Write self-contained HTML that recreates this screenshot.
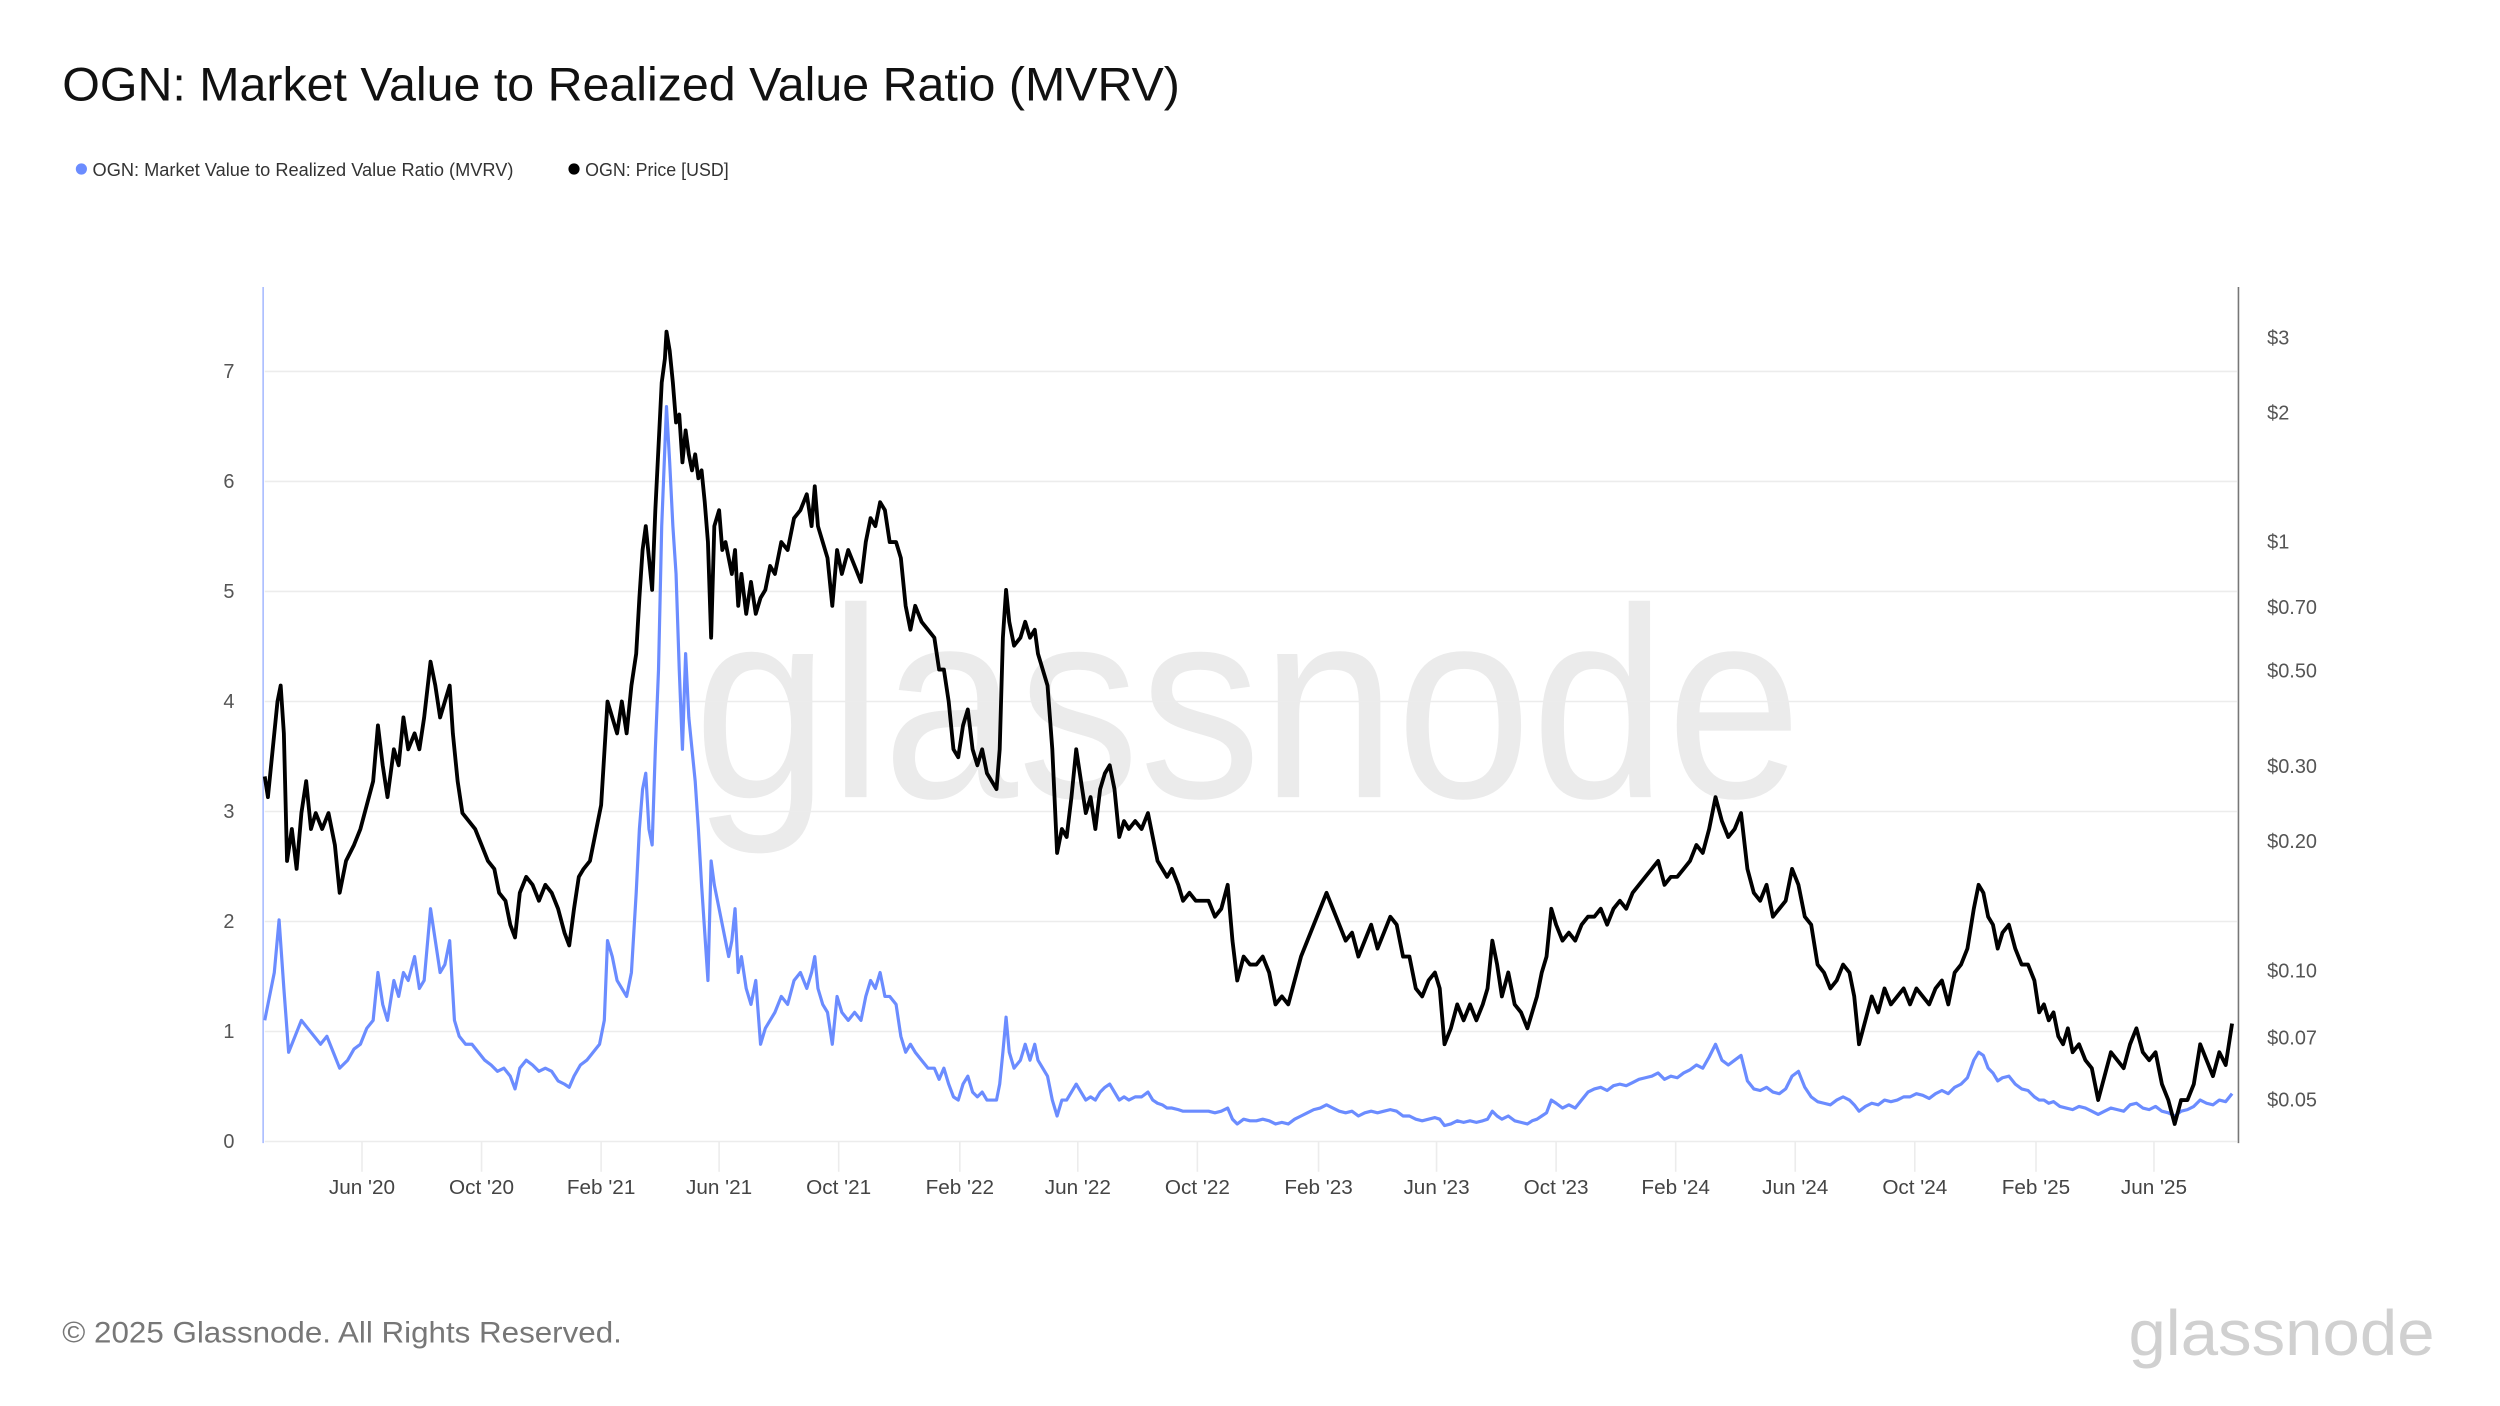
<!DOCTYPE html>
<html><head><meta charset="utf-8"><style>
html,body{margin:0;padding:0;background:#fff;}
svg{display:block;}
text{font-family:"Liberation Sans",sans-serif;}
</style></head><body>
<svg width="2500" height="1406" viewBox="0 0 1568 881.9" xmlns="http://www.w3.org/2000/svg">
<rect width="1568" height="882" fill="#fff"/>
<text x="39" y="63" font-size="29.5" fill="#111" textLength="701" lengthAdjust="spacingAndGlyphs">OGN: Market Value to Realized Value Ratio (MVRV)</text>
<circle cx="51" cy="106" r="3.5" fill="#6b8cff"/>
<text x="58" y="110.5" font-size="11.5" fill="#333" textLength="264" lengthAdjust="spacingAndGlyphs">OGN: Market Value to Realized Value Ratio (MVRV)</text>
<circle cx="360" cy="106" r="3.5" fill="#000"/>
<text x="367" y="110.5" font-size="11.5" fill="#333" textLength="90" lengthAdjust="spacingAndGlyphs">OGN: Price [USD]</text>

<text x="435" y="500" font-size="170" fill="#ebebeb" textLength="695" lengthAdjust="spacingAndGlyphs">glassnode</text>

<g stroke="#ececec" stroke-width="1">
<line x1="166" x2="1403" y1="233" y2="233"/><line x1="166" x2="1403" y1="302" y2="302"/>
<line x1="166" x2="1403" y1="371" y2="371"/><line x1="166" x2="1403" y1="440" y2="440"/>
<line x1="166" x2="1403" y1="509" y2="509"/><line x1="166" x2="1403" y1="578" y2="578"/>
<line x1="166" x2="1403" y1="647" y2="647"/><line x1="166" x2="1403" y1="716" y2="716"/>
<line x1="227" x2="227" y1="716" y2="735"/><line x1="302" x2="302" y1="716" y2="735"/><line x1="377" x2="377" y1="716" y2="735"/><line x1="451" x2="451" y1="716" y2="735"/><line x1="526" x2="526" y1="716" y2="735"/><line x1="602" x2="602" y1="716" y2="735"/><line x1="676" x2="676" y1="716" y2="735"/><line x1="751" x2="751" y1="716" y2="735"/><line x1="827" x2="827" y1="716" y2="735"/><line x1="901" x2="901" y1="716" y2="735"/><line x1="976" x2="976" y1="716" y2="735"/><line x1="1051" x2="1051" y1="716" y2="735"/><line x1="1126" x2="1126" y1="716" y2="735"/><line x1="1201" x2="1201" y1="716" y2="735"/><line x1="1277" x2="1277" y1="716" y2="735"/><line x1="1351" x2="1351" y1="716" y2="735"/>
</g>
<line x1="165" x2="165" y1="180" y2="717" stroke="#a9bbff" stroke-width="1"/>
<line x1="1404" x2="1404" y1="180" y2="717" stroke="#777" stroke-width="1"/>

<g font-size="12.5" fill="#555" text-anchor="end">
<text x="147" y="720">0</text><text x="147" y="651">1</text><text x="147" y="582">2</text><text x="147" y="513">3</text><text x="147" y="444">4</text><text x="147" y="375">5</text><text x="147" y="306">6</text><text x="147" y="237">7</text>
</g>
<g font-size="12.5" fill="#555">
<text x="1422" y="216">$3</text><text x="1422" y="263">$2</text><text x="1422" y="344">$1</text><text x="1422" y="385">$0.70</text><text x="1422" y="425">$0.50</text><text x="1422" y="485">$0.30</text><text x="1422" y="532">$0.20</text><text x="1422" y="613">$0.10</text><text x="1422" y="655">$0.07</text><text x="1422" y="694">$0.05</text>
</g>
<g font-size="13" fill="#444" text-anchor="middle">
<text x="227" y="749">Jun '20</text><text x="302" y="749">Oct '20</text><text x="377" y="749">Feb '21</text><text x="451" y="749">Jun '21</text><text x="526" y="749">Oct '21</text><text x="602" y="749">Feb '22</text><text x="676" y="749">Jun '22</text><text x="751" y="749">Oct '22</text><text x="827" y="749">Feb '23</text><text x="901" y="749">Jun '23</text><text x="976" y="749">Oct '23</text><text x="1051" y="749">Feb '24</text><text x="1126" y="749">Jun '24</text><text x="1201" y="749">Oct '24</text><text x="1277" y="749">Feb '25</text><text x="1351" y="749">Jun '25</text>
</g>

<polyline fill="none" stroke="#6b8cff" stroke-width="2" stroke-linejoin="round" points="166,640 168,630 172,610 175,577 178,620 181,660 185,650 189,640 193,645 197,650 201,655 205,650 209,660 213,670 218,665 222,658 226,655 230,645 234,640 237,610 240,630 243,640 247,615 250,625 253,610 256,615 260,600 263,620 266,615 270,570 273,590 276,610 279,605 282,590 285,640 288,650 292,655 296,655 300,660 304,665 308,668 312,672 316,670 320,675 323,683 326,670 330,665 334,668 338,672 342,670 346,672 350,678 354,680 357,682 360,675 364,668 368,665 372,660 376,655 379,640 381,590 384,600 387,615 390,620 393,625 396,610 399,560 401,520 403,495 405,485 407,520 409,530 411,470 413,420 415,330 417,280 418,255 420,290 422,330 424,360 426,420 428,470 430,410 432,450 434,470 436,490 438,520 440,555 442,585 444,615 446,540 448,555 451,570 453,580 455,590 457,600 459,590 461,570 463,610 465,600 468,620 471,630 474,615 477,655 480,645 483,640 486,635 490,625 494,630 498,615 502,610 506,620 509,610 511,600 513,620 516,630 519,635 522,655 525,625 528,635 532,640 536,635 540,640 543,625 546,615 549,620 552,610 555,625 558,625 562,630 565,650 568,660 571,655 574,660 578,665 582,670 586,670 589,677 592,670 595,680 598,688 601,690 604,680 607,675 610,685 613,688 616,685 619,690 622,690 625,690 627,680 629,660 631,638 633,660 636,670 640,665 643,655 646,665 649,655 651,665 654,670 657,675 660,690 663,700 666,690 669,690 672,685 675,680 678,685 681,690 684,688 687,690 690,685 693,682 696,680 699,685 702,690 705,688 708,690 712,688 716,688 720,685 723,690 726,692 729,693 732,695 735,695 739,696 742,697 746,697 750,697 754,697 758,697 762,698 766,697 770,695 773,702 776,705 780,702 784,703 788,703 792,702 796,703 800,705 804,704 808,705 812,702 816,700 820,698 824,696 828,695 832,693 836,695 840,697 844,698 848,697 852,700 856,698 860,697 864,698 868,697 872,696 876,697 880,700 884,700 888,702 892,703 896,702 900,701 903,702 906,706 910,705 914,703 918,704 922,703 926,704 930,703 933,702 936,697 939,700 942,702 946,700 950,703 954,704 958,705 961,703 964,702 967,700 970,698 973,690 976,692 980,695 984,693 988,695 992,690 996,685 1000,683 1004,682 1008,684 1012,681 1016,680 1020,681 1024,679 1028,677 1032,676 1036,675 1040,673 1044,677 1048,675 1052,676 1056,673 1060,671 1064,668 1068,670 1072,663 1076,655 1080,665 1084,668 1088,665 1092,662 1096,678 1100,683 1104,684 1108,682 1112,685 1116,686 1120,683 1124,675 1128,672 1132,682 1136,688 1140,691 1144,692 1148,693 1152,690 1156,688 1160,690 1163,693 1166,697 1170,694 1174,692 1178,693 1182,690 1186,691 1190,690 1194,688 1198,688 1202,686 1206,687 1210,689 1214,686 1218,684 1222,686 1226,682 1230,680 1234,676 1238,665 1241,660 1244,662 1247,670 1250,673 1253,678 1256,676 1260,675 1264,680 1268,683 1272,684 1276,688 1279,690 1282,690 1285,692 1288,691 1292,694 1296,695 1300,696 1304,694 1308,695 1312,697 1316,699 1320,697 1324,695 1328,696 1332,697 1336,693 1340,692 1344,695 1348,696 1352,694 1356,697 1360,698 1364,700 1368,697 1372,696 1376,694 1380,690 1384,692 1388,693 1392,690 1396,691 1400,686"/>

<polyline fill="none" stroke="#000" stroke-width="2.4" stroke-linejoin="round" points="166,487 168,500 171,470 174,440 176,430 178,460 180,540 183,520 186,545 189,510 192,490 195,520 198,510 202,520 206,510 210,530 213,560 217,540 222,530 226,520 230,505 234,490 237,455 240,480 243,500 247,470 250,480 253,450 256,470 260,460 263,470 266,450 270,415 273,430 276,450 279,440 282,430 284,460 287,490 290,510 294,515 298,520 302,530 306,540 310,545 313,560 317,565 320,580 323,588 326,560 330,550 334,555 338,565 342,555 346,560 350,570 354,585 357,593 360,570 363,550 366,545 370,540 374,520 377,505 381,440 384,450 387,460 390,440 393,460 396,430 399,410 401,375 403,345 405,330 407,350 409,370 411,320 413,280 415,240 417,225 418,208 420,220 422,240 424,265 426,260 428,290 430,270 432,285 434,295 436,285 438,300 440,295 442,315 444,340 446,400 448,330 451,320 453,345 455,340 457,350 459,360 461,345 463,380 465,360 468,385 471,365 474,385 477,375 480,370 483,355 486,360 490,340 494,345 498,325 502,320 506,310 509,330 511,305 513,330 516,340 519,350 522,380 525,345 528,360 532,345 536,355 540,365 543,340 546,325 549,330 552,315 555,320 558,340 562,340 565,350 568,380 571,395 574,380 578,390 582,395 586,400 589,420 592,420 595,440 598,470 601,475 604,455 607,445 610,470 613,480 616,470 619,485 622,490 625,495 627,470 629,400 631,370 633,390 636,405 640,400 643,390 646,400 649,395 651,410 654,420 657,430 660,470 663,535 666,520 669,525 672,500 675,470 678,490 681,510 684,500 687,520 690,495 693,485 696,480 699,495 702,525 705,515 708,520 712,515 716,520 720,510 723,525 726,540 729,545 732,550 735,545 739,555 742,565 746,560 750,565 754,565 758,565 762,575 766,570 770,555 773,590 776,615 780,600 784,605 788,605 792,600 796,610 800,630 804,625 808,630 812,615 816,600 820,590 824,580 828,570 832,560 836,570 840,580 844,590 848,585 852,600 856,590 860,580 864,595 868,585 872,575 876,580 880,600 884,600 888,620 892,625 896,615 900,610 903,620 906,655 910,645 914,630 918,640 922,630 926,640 930,630 933,620 936,590 939,605 942,625 946,610 950,630 954,635 958,645 961,635 964,625 967,610 970,600 973,570 976,580 980,590 984,585 988,590 992,580 996,575 1000,575 1004,570 1008,580 1012,570 1016,565 1020,570 1024,560 1028,555 1032,550 1036,545 1040,540 1044,555 1048,550 1052,550 1056,545 1060,540 1064,530 1068,535 1072,520 1076,500 1080,515 1084,525 1088,520 1092,510 1096,545 1100,560 1104,565 1108,555 1112,575 1116,570 1120,565 1124,545 1128,555 1132,575 1136,580 1140,605 1144,610 1148,620 1152,615 1156,605 1160,610 1163,625 1166,655 1170,640 1174,625 1178,635 1182,620 1186,630 1190,625 1194,620 1198,630 1202,620 1206,625 1210,630 1214,620 1218,615 1222,630 1226,610 1230,605 1234,595 1238,570 1241,555 1244,560 1247,575 1250,580 1253,595 1256,585 1260,580 1264,595 1268,605 1272,605 1276,615 1279,635 1282,630 1285,640 1288,635 1291,650 1294,655 1297,645 1300,660 1304,655 1308,665 1312,670 1316,690 1320,675 1324,660 1328,665 1332,670 1336,655 1340,645 1344,660 1348,665 1352,660 1356,680 1360,690 1364,705 1368,690 1372,690 1376,680 1380,655 1384,665 1388,675 1392,660 1396,668 1400,642"/>

<text x="39" y="842" font-size="18.5" fill="#777" textLength="351" lengthAdjust="spacingAndGlyphs">© 2025 Glassnode. All Rights Reserved.</text>
<text x="1335" y="850" font-size="40" fill="#d0d0d0" textLength="192" lengthAdjust="spacingAndGlyphs">glassnode</text>
</svg>
</body></html>
